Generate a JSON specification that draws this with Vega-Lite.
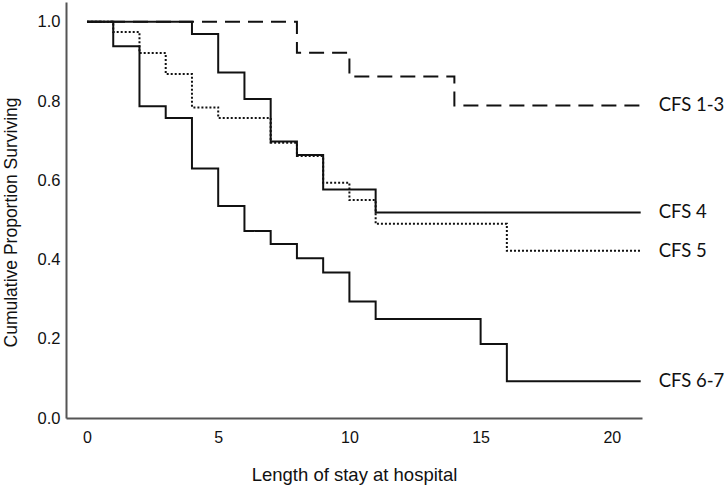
{
  "$schema": "https://vega.github.io/schema/vega-lite/v6.json",
  "width": 576,
  "height": 416,
  "autosize": {"type": "none"},
  "padding": {"left": 66, "top": 2, "right": 83, "bottom": 70},
  "background": "white",
  "config": {"view": {"stroke": null}},
  "datasets": {
    "curves": [
      {"group": "CFS 1-3", "t": 0, "s": 1.0},
      {"group": "CFS 1-3", "t": 8, "s": 0.922},
      {"group": "CFS 1-3", "t": 10, "s": 0.862},
      {"group": "CFS 1-3", "t": 14, "s": 0.789},
      {"group": "CFS 1-3", "t": 21.1, "s": 0.789},
      {"group": "CFS 4", "t": 0, "s": 1.0},
      {"group": "CFS 4", "t": 4, "s": 0.969},
      {"group": "CFS 4", "t": 5, "s": 0.872},
      {"group": "CFS 4", "t": 6, "s": 0.805},
      {"group": "CFS 4", "t": 7, "s": 0.698},
      {"group": "CFS 4", "t": 8, "s": 0.664},
      {"group": "CFS 4", "t": 9, "s": 0.577},
      {"group": "CFS 4", "t": 11, "s": 0.519},
      {"group": "CFS 4", "t": 21.1, "s": 0.519},
      {"group": "CFS 5", "t": 0, "s": 1.0},
      {"group": "CFS 5", "t": 1, "s": 0.974},
      {"group": "CFS 5", "t": 2, "s": 0.921},
      {"group": "CFS 5", "t": 3, "s": 0.868},
      {"group": "CFS 5", "t": 4, "s": 0.784},
      {"group": "CFS 5", "t": 5, "s": 0.757},
      {"group": "CFS 5", "t": 7, "s": 0.695},
      {"group": "CFS 5", "t": 8, "s": 0.661},
      {"group": "CFS 5", "t": 9, "s": 0.594},
      {"group": "CFS 5", "t": 10, "s": 0.55},
      {"group": "CFS 5", "t": 11, "s": 0.49},
      {"group": "CFS 5", "t": 16, "s": 0.422},
      {"group": "CFS 5", "t": 21.1, "s": 0.422},
      {"group": "CFS 6-7", "t": 0, "s": 1.0},
      {"group": "CFS 6-7", "t": 1, "s": 0.938},
      {"group": "CFS 6-7", "t": 2, "s": 0.787},
      {"group": "CFS 6-7", "t": 3, "s": 0.757},
      {"group": "CFS 6-7", "t": 4, "s": 0.63},
      {"group": "CFS 6-7", "t": 5, "s": 0.535},
      {"group": "CFS 6-7", "t": 6, "s": 0.472},
      {"group": "CFS 6-7", "t": 7, "s": 0.439},
      {"group": "CFS 6-7", "t": 8, "s": 0.403},
      {"group": "CFS 6-7", "t": 9, "s": 0.367},
      {"group": "CFS 6-7", "t": 10, "s": 0.294},
      {"group": "CFS 6-7", "t": 11, "s": 0.25},
      {"group": "CFS 6-7", "t": 15, "s": 0.187},
      {"group": "CFS 6-7", "t": 16, "s": 0.093},
      {"group": "CFS 6-7", "t": 21.1, "s": 0.093}
    ],
    "labels": [
      {"group": "CFS 1-3", "t": 21.1, "s": 0.789},
      {"group": "CFS 4", "t": 21.1, "s": 0.519},
      {"group": "CFS 5", "t": 21.1, "s": 0.422},
      {"group": "CFS 6-7", "t": 21.1, "s": 0.093}
    ]
  },
  "layer": [
    {
      "data": {"name": "curves"},
      "mark": {"type": "line", "interpolate": "step-after", "strokeWidth": 2, "color": "#111111", "clip": false},
      "encoding": {
        "x": {
          "field": "t", "type": "quantitative",
          "scale": {"domain": [-0.8, 21.15], "nice": false, "zero": false},
          "axis": {
            "title": "Length of stay at hospital",
            "values": [0, 5, 10, 15, 20],
            "grid": false, "ticks": false, "tickSize": 0,
            "domainColor": "#555555", "domainWidth": 2,
            "labelFont": "Liberation Sans", "labelFontSize": 16, "labelColor": "#111111",
            "labelPadding": 11,
            "titleFont": "Liberation Sans", "titleFontSize": 18.5, "titleFontWeight": "normal", "titleColor": "#111111",
            "titlePadding": 20
          }
        },
        "y": {
          "field": "s", "type": "quantitative",
          "scale": {"domain": [0, 1.05], "nice": false},
          "axis": {
            "title": "Cumulative Proportion Surviving",
            "values": [0, 0.2, 0.4, 0.6, 0.8, 1.0],
            "format": ".1f",
            "grid": false, "ticks": false, "tickSize": 0,
            "domainColor": "#555555", "domainWidth": 2,
            "labelFont": "Liberation Sans", "labelFontSize": 16.5, "labelColor": "#111111",
            "labelPadding": 6,
            "titleFont": "Liberation Sans", "titleFontSize": 17.5, "titleFontWeight": "normal", "titleColor": "#111111",
            "titlePadding": 17,
            "titleY": 220
          }
        },
        "detail": {"field": "group", "type": "nominal"},
        "strokeDash": {
          "field": "group", "type": "nominal",
          "scale": {"domain": ["CFS 1-3", "CFS 4", "CFS 5", "CFS 6-7"], "range": [[15, 8], [1, 0], [2, 2], [1, 0]]},
          "legend": null
        }
      }
    },
    {
      "data": {"name": "labels"},
      "mark": {"type": "text", "align": "left", "baseline": "middle", "dx": 18, "font": "Lato", "fontSize": 18.5, "color": "#111111", "clip": false},
      "encoding": {
        "x": {"field": "t", "type": "quantitative"},
        "y": {"field": "s", "type": "quantitative"},
        "text": {"field": "group", "type": "nominal"}
      }
    }
  ]
}
